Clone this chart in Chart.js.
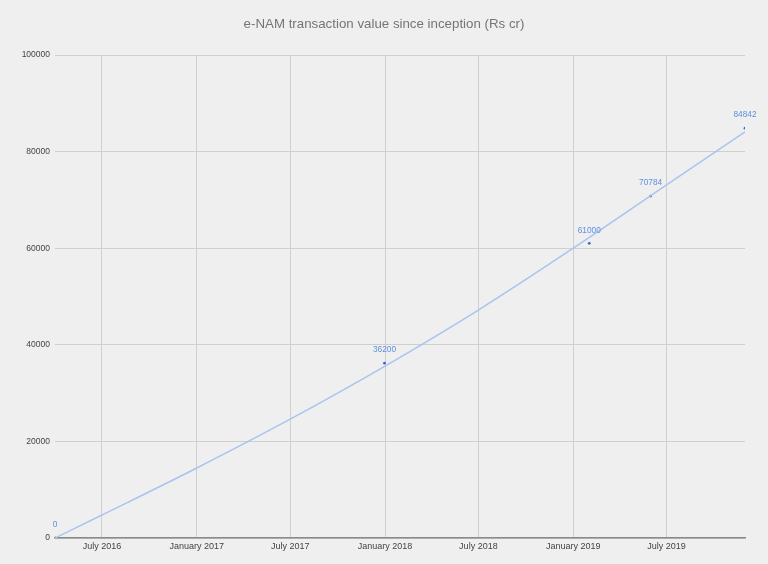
<!DOCTYPE html>
<html>
<head>
<meta charset="utf-8">
<script src="https://cdn.jsdelivr.net/npm/chart.js@4.4.1/dist/chart.umd.min.js"></script>
<style>
  html, body { margin: 0; padding: 0; background: #efefef; }
  #wrap { width: 768px; height: 564px; }
</style>
</head>
<body>
<div id="wrap"><canvas id="lineChart" width="768" height="564"></canvas></div>
<script>
// observed values (date of report, cumulative Rs cr)
const pointDates = ["2016-04-01", "2017-12-31", "2019-02-01", "2019-05-31", "2019-11-30"];
const pointValues = [0, 36200, 61000, 70784, 84842];

// trend line at the tick dates
const trendDates = ["2016-04-01", "2016-07-01", "2017-01-01", "2017-07-01", "2018-01-01",
                    "2018-07-01", "2019-01-01", "2019-07-01", "2019-11-30"];
const trendValues = [0, 4760, 14500, 24600, 35600, 47200, 60000, 73100, 84100];

const tickDates = ["2016-07-01", "2017-01-01", "2017-07-01", "2018-01-01",
                   "2018-07-01", "2019-01-01", "2019-07-01"];
const tickLabels = ["July 2016", "January 2017", "July 2017", "January 2018",
                    "July 2018", "January 2019", "July 2019"];

const yTicks = [0, 20000, 40000, 60000, 80000, 100000];

const chartTitle = 'e-NAM transaction value since inception (Rs cr)';

function ts(d) {
    return Date.parse(d + "T00:00:00Z");
}

const pointData = pointDates.map((d, i) => ({ x: ts(d), y: pointValues[i] }));
const trendData = trendDates.map((d, i) => ({ x: ts(d), y: trendValues[i] }));

// background + title centred on the whole canvas
const bgPlugin = {
    id: 'bg',
    beforeDraw(chart) {
        const ctx = chart.ctx;
        ctx.save();
        ctx.fillStyle = '#efefef';
        ctx.fillRect(0, 0, chart.width, chart.height);
        ctx.font = '13.3px "Liberation Sans", Arial, sans-serif';
        ctx.fillStyle = '#757575';
        ctx.textAlign = 'center';
        ctx.textBaseline = 'middle';
        ctx.fillText(chartTitle, chart.width / 2, 24);
        ctx.restore();
    }
};

// value labels above the points
const labelPlugin = {
    id: 'pointLabels',
    afterDatasetsDraw(chart) {
        const ctx = chart.ctx;
        const meta = chart.getDatasetMeta(1);
        ctx.save();
        ctx.font = '8.3px "Liberation Sans", Arial, sans-serif';
        ctx.fillStyle = '#5f8fe0';
        ctx.textAlign = 'center';
        ctx.textBaseline = 'bottom';
        meta.data.forEach((pt, i) => {
            ctx.fillText(String(pointValues[i]), pt.x, pt.y - 9);
        });
        ctx.restore();
    }
};

new Chart(document.getElementById("lineChart"), {
    type: 'line',
    data: {
        datasets: [
            {
                data: trendData,
                borderColor: '#a9c4ef',
                borderWidth: 1.5,
                pointRadius: 0,
                cubicInterpolationMode: 'monotone',
                fill: false
            },
            {
                data: pointData,
                showLine: false,
                pointRadius: 1.4,
                pointBackgroundColor: '#3a68c8',
                pointBorderWidth: 0
            }
        ]
    },
    options: {
        responsive: false,
        animation: false,
        devicePixelRatio: 1,
        layout: { padding: { left: 0, right: 23, top: 55, bottom: 0 } },
        plugins: {
            legend: { display: false },
            tooltip: { enabled: false },
            title: { display: false }
        },
        scales: {
            x: {
                type: 'linear',
                min: ts(pointDates[0]),
                max: ts(pointDates[pointDates.length - 1]),
                afterBuildTicks(scale) {
                    scale.ticks = tickDates.map(d => ({ value: ts(d) }));
                },
                afterFit(scale) { scale.height = 26; },
                ticks: {
                    autoSkip: false,
                    maxRotation: 0,
                    padding: 3,
                    color: '#444',
                    font: { family: '"Liberation Sans", Arial, sans-serif', size: 9 },
                    callback: (value, index) => tickLabels[index]
                },
                grid: { color: '#cfcfcf', drawTicks: false },
                border: { display: true, color: '#8a8a8a', width: 1.5 }
            },
            y: {
                min: 0,
                max: 100000,
                afterBuildTicks(scale) {
                    scale.ticks = yTicks.map(v => ({ value: v }));
                },
                afterFit(scale) { scale.width = 55; },
                ticks: {
                    padding: 5,
                    color: '#444',
                    font: { family: '"Liberation Sans", Arial, sans-serif', size: 8.5 },
                    callback: v => String(v)
                },
                grid: { color: '#cfcfcf', drawTicks: false },
                border: { display: false }
            }
        }
    },
    plugins: [bgPlugin, labelPlugin]
});
</script>
</body>
</html>
